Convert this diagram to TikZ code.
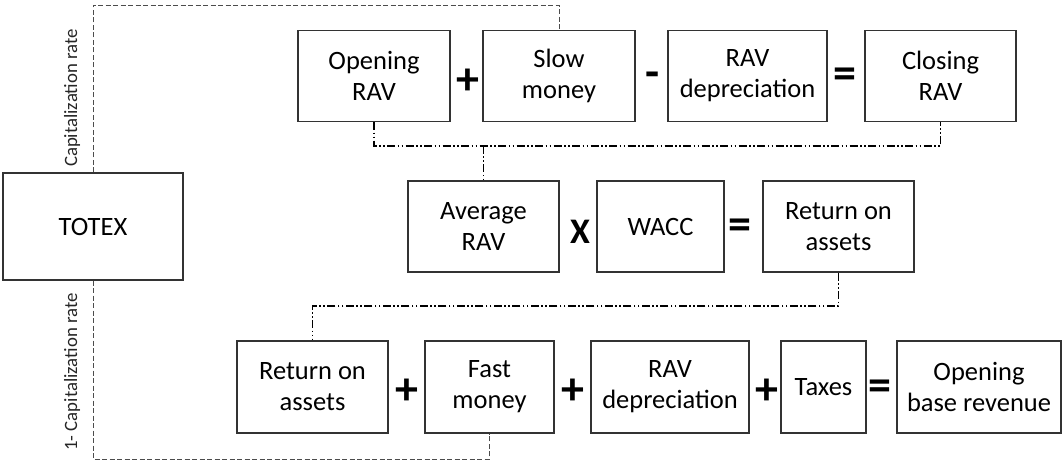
\documentclass[tikz,border=0pt]{standalone}
\usepackage{fontspec}
\setmainfont{Carlito}
\usetikzlibrary{calc}
\begin{document}
\begin{tikzpicture}[x=1pt,y=1pt,
  box/.style={draw=black!80, line width=1.2pt, minimum height=91pt, inner sep=0pt, align=center,
    font=\fontsize{26.5}{31}\selectfont},
  sym/.style={inner sep=0pt, font=\fontsize{46}{46}\selectfont\bfseries},
  symx/.style={inner sep=0pt, font=\fontsize{36}{36}\selectfont\bfseries},
  ddline/.style={line width=1.3pt, black, dash pattern=on 8pt off 2.5pt on 1.5pt off 2.5pt on 1.5pt off 2.5pt},
  capline/.style={line width=0.8pt, black!70, dash pattern=on 5pt off 2.5pt},
  lab/.style={inner sep=0pt, rotate=90, text=black!85, font=\fontsize{18.8}{20}\selectfont}]
\useasboundingbox (0,0) rectangle (1064,460);
% boxes
\node[box, minimum width=180pt, minimum height=107pt] (totex) at (93,233.5) {TOTEX};
\node[box, minimum width=152pt] (oprav) at (374,384) {Opening\\RAV};
\node[box, minimum width=152pt] (slow) at (559,384) {Slow\\money};
\node[box, minimum width=159pt] (ravdep) at (747.5,384) {RAV\\depreciation};
\node[box, minimum width=151pt] (clrav) at (940.5,384) {Closing\\RAV};
\node[box, minimum width=151pt] (avrav) at (483.5,233.5) {Average\\RAV};
\node[box, minimum width=127pt] (wacc) at (660.5,233.5) {WACC};
\node[box, minimum width=151pt] (roa) at (838.5,233.5) {Return on\\assets};
\node[box, minimum width=151pt, minimum height=92pt] (roab) at (312.5,73) {Return on\\assets};
\node[box, minimum width=129pt, minimum height=92pt] (fast) at (489.5,73) {Fast\\money};
\node[box, minimum width=158pt, minimum height=92pt] (ravdepb) at (670,73) {RAV\\depreciation};
\node[box, minimum width=85pt, minimum height=92pt] (taxes) at (823.5,73) {Taxes};
\node[box, minimum width=164pt, minimum height=92pt] (obr) at (979,73) {Opening\\base revenue};
% operators
\node[sym] (p1) at (468,378) {+};
\node[sym] (m1) at (653,380) {-};
\node[sym] (e1) at (845,382) {=};
\node[symx] (x2) at (580,228) {X};
\node[sym] (e2) at (740,231) {=};
\node[sym] (p3) at (407,68) {+};
\node[sym] (p4) at (573,68) {+};
\node[sym] (p5) at (767,68) {+};
\node[sym] (e3) at (880,70) {=};
% connectors
\coordinate (l1) at (0,314);
\coordinate (l2) at (0,154);
\coordinate (ttop) at (0,455);
\coordinate (tbot) at (0,1);
\draw[ddline] (oprav.south) -- (oprav.south |- l1) -| (clrav.south);
\draw[ddline] (avrav.north |- l1) -- (avrav.north);
\draw[ddline] (roa.south) -- (roa.south |- l2) -| (roab.north);
\draw[capline] (totex.north) -- (totex.north |- ttop) -| (slow.north);
\draw[capline] (totex.south) -- (totex.south |- tbot) -| (fast.south);
% labels
\node[lab] (cr) at (72,362) {Capitalization rate};
\node[lab] (cr1) at (72,88) {1- Capitalization rate};
\end{tikzpicture}
\end{document}
